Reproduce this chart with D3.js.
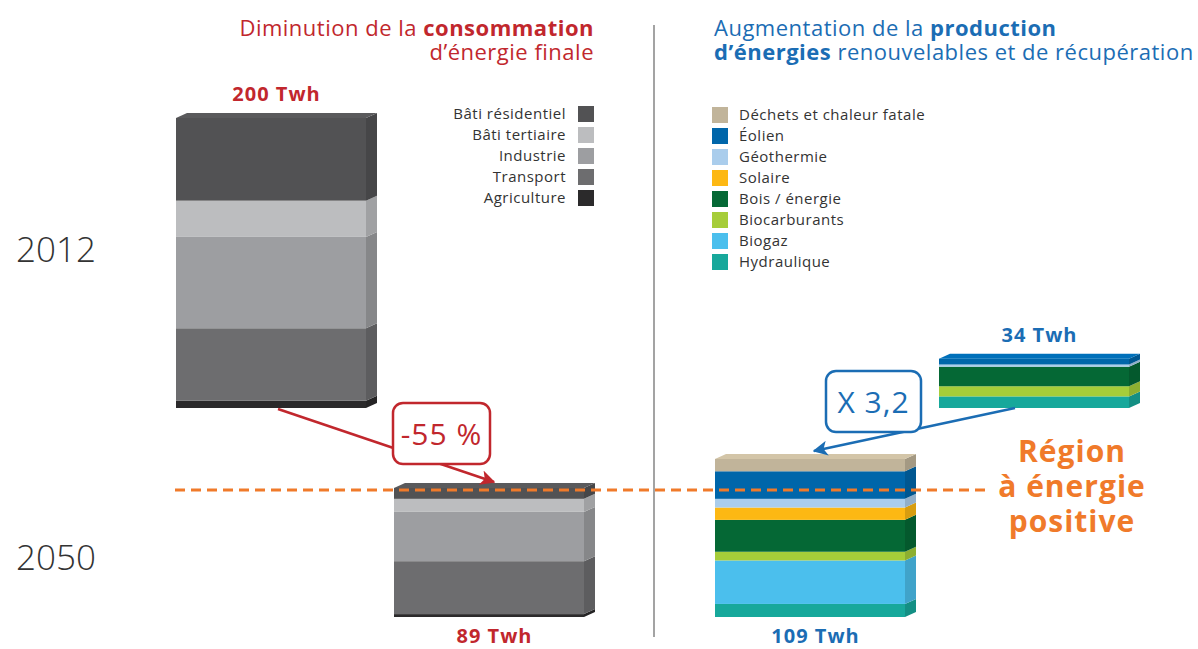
<!DOCTYPE html>
<html lang="fr">
<head>
<meta charset="utf-8">
<title>Consommation et production d'énergie</title>
<style>
  body { margin: 0; background: #fff; font-family: "Open Sans", Lato, sans-serif; }
  svg text { font-family: "Open Sans", Lato, sans-serif; }
  .year { font-size: 35px; fill: #333; font-weight: 300; }
  .legend text { font-size: 15px; fill: #333; letter-spacing: 0.5px; }
  .title { font-size: 22px; letter-spacing: 0.5px; }
  .total { font-size: 20px; font-weight: 700; letter-spacing: 1px; }
</style>
</head>
<body>
<div id="chart"></div>
<script src="https://d3js.org/d3.v7.min.js"></script>
<script>
// ---- data (Twh) ----
var years = ["2012", "2050"];

var consoCats = ["Bâti résidentiel", "Bâti tertiaire", "Industrie", "Transport", "Agriculture"];
var conso2012 = [57, 25, 63, 50, 5];
var conso2050 = [7.5, 9, 34, 36.5, 2];

var enrCats = ["Déchets et chaleur fatale", "Éolien", "Géothermie", "Solaire",
               "Bois / énergie", "Biocarburants", "Biogaz", "Hydraulique"];
var enr2012 = [0, 4, 1.5, 0, 13.5, 7, 0, 8];
var enr2050 = [8.5, 19, 6, 8.5, 22, 6, 30, 9];

var evolLabels = ["-55 %", "X 3,2"];

// ---- colours ----
var consoColor = d3.scaleOrdinal()
    .domain(consoCats)
    .range(["#525254", "#bcbdbf", "#9d9ea1", "#6d6d6f", "#2b2a2b"]);
var enrColor = d3.scaleOrdinal()
    .domain(enrCats)
    .range(["#c1b49a", "#0066aa", "#aacdec", "#fdb813", "#056835", "#a6cd39", "#4bbfed", "#17a89b"]);

var red = "#c1272d", blue = "#1b6db4", orange = "#f07a2a";

var width = 1198, height = 649;
var svg = d3.select("#chart").append("svg")
    .attr("width", width)
    .attr("height", height);

// height scale shared by all bars
var h = d3.scaleLinear().domain([0, 200]).range([0, 290]);
// bottom of each row
var rowY = d3.scaleOrdinal().domain(years).range([408, 617]);
var barW = 190, dx = 11, dy = -5;

// ---- titles ----
var t1 = svg.append("text").attr("class", "title").attr("x", 594).attr("y", 36)
    .attr("text-anchor", "end").attr("fill", red);
t1.append("tspan").text("Diminution de la ");
t1.append("tspan").attr("font-weight", 700).text("consommation");
svg.append("text").attr("class", "title").attr("x", 594).attr("y", 60)
    .attr("text-anchor", "end").attr("fill", red)
    .text("d’énergie finale");

var t2 = svg.append("text").attr("class", "title").attr("x", 714).attr("y", 36)
    .attr("fill", blue);
t2.append("tspan").text("Augmentation de la ");
t2.append("tspan").attr("font-weight", 700).text("production");
var t3 = svg.append("text").attr("class", "title").attr("x", 714).attr("y", 60)
    .attr("fill", blue);
t3.append("tspan").attr("font-weight", 700).text("d’énergies");
t3.append("tspan").text(" renouvelables et de récupération");

// divider
svg.append("line")
    .attr("x1", 654).attr("x2", 654).attr("y1", 25).attr("y2", 637)
    .attr("stroke", "#666").attr("stroke-width", 1.2);

// year labels
svg.selectAll("text.year").data(years).join("text")
    .attr("class", "year")
    .attr("x", 56)
    .attr("y", function(d) { return d === "2012" ? 262 : 570; })
    .attr("text-anchor", "middle")
    .text(function(d) { return d; });

// ---- legends ----
var legL = svg.append("g").attr("class", "legend").attr("transform", "translate(578,106)");
var rowL = legL.selectAll("g").data(consoCats).join("g")
    .attr("transform", function(d, i) { return "translate(0," + i * 21 + ")"; });
rowL.append("rect").attr("width", 16).attr("height", 16).attr("fill", consoColor);
rowL.append("text").attr("x", -12).attr("y", 13).attr("text-anchor", "end").text(function(d) { return d; });

var legR = svg.append("g").attr("class", "legend").attr("transform", "translate(712,107)");
var rowR = legR.selectAll("g").data(enrCats).join("g")
    .attr("transform", function(d, i) { return "translate(0," + i * 21 + ")"; });
rowR.append("rect").attr("width", 16).attr("height", 16).attr("fill", enrColor);
rowR.append("text").attr("x", 27).attr("y", 13).text(function(d) { return d; });

// ---- 3D stacked bars ----
function drawBar(cats, values, color, x0, year, labelColor, labelAbove) {
  var bottom = rowY(year);
  var segs = [];
  var acc = 0;
  // stack from the last category (bottom) up to the first (top)
  for (var i = cats.length - 1; i >= 0; i--) {
    if (values[i] > 0) {
      segs.push({ cat: cats[i], y1: bottom - h(acc), y0: bottom - h(acc + values[i]) });
    }
    acc += values[i];
  }
  var g = svg.append("g");
  var x1 = x0 + barW;
  g.selectAll("rect").data(segs).join("rect")
    .attr("x", x0).attr("y", function(d) { return d.y0; })
    .attr("width", barW).attr("height", function(d) { return d.y1 - d.y0; })
    .attr("fill", function(d) { return color(d.cat); });
  g.selectAll("path.side").data(segs).join("path")
    .attr("class", "side")
    .attr("d", function(d) {
      return "M" + x1 + "," + d.y0 + "L" + (x1 + dx) + "," + (d.y0 + dy) +
             "L" + (x1 + dx) + "," + (d.y1 + dy) + "L" + x1 + "," + d.y1 + "Z";
    })
    .attr("fill", function(d) { return d3.color(color(d.cat)).darker(0.45); });
  var top = segs[segs.length - 1];
  g.append("path")
    .attr("d", "M" + x0 + "," + top.y0 + "L" + (x0 + dx) + "," + (top.y0 + dy) +
               "L" + (x1 + dx) + "," + (top.y0 + dy) + "L" + x1 + "," + top.y0 + "Z")
    .attr("fill", d3.color(color(top.cat)).brighter(0.25));

  var total = d3.sum(values);
  g.append("text").attr("class", "total")
    .attr("x", x0 + (barW + dx) / 2)
    .attr("y", labelAbove ? top.y0 - 17 : bottom + 26)
    .attr("text-anchor", "middle")
    .attr("fill", labelColor)
    .text(d3.format(".0f")(total) + " Twh");
  return { x0: x0, top: top.y0, bottom: bottom };
}

drawBar(consoCats, conso2012, consoColor, 176, "2012", red, true);
drawBar(consoCats, conso2050, consoColor, 394, "2050", red, false);
drawBar(enrCats, enr2050, enrColor, 715, "2050", blue, false);
drawBar(enrCats, enr2012, enrColor, 939, "2012", blue, true);

// orange reference line
svg.append("line")
    .attr("x1", 175).attr("x2", 988).attr("y1", 490).attr("y2", 490)
    .attr("stroke", orange).attr("stroke-width", 3)
    .attr("stroke-dasharray", "10,6");

var reg = svg.append("text").attr("fill", orange)
    .attr("text-anchor", "middle").style("font-size", "30px").style("letter-spacing", "1px")
    .attr("font-weight", 700);
reg.selectAll("tspan").data(["Région", "à énergie", "positive"]).join("tspan")
    .attr("x", 1072).attr("y", function(d, i) { return 462 + i * 35; })
    .text(function(d) { return d; });

// ---- callouts ----
var defs = svg.append("defs");
[["arrRed", red], ["arrBlue", blue]].forEach(function(m) {
  defs.append("marker").attr("id", m[0])
    .attr("viewBox", "0 0 10 10").attr("refX", 9).attr("refY", 5)
    .attr("markerWidth", 6).attr("markerHeight", 6).attr("orient", "auto")
    .attr("markerUnits", "strokeWidth")
    .append("path").attr("d", "M0,0L10,5L0,10L2.5,5Z").attr("fill", m[1]);
});

function callout(from, to, box, label, col, marker) {
  svg.append("line")
    .attr("x1", from[0]).attr("y1", from[1]).attr("x2", to[0]).attr("y2", to[1])
    .attr("stroke", col).attr("stroke-width", 2.5)
    .attr("marker-end", "url(#" + marker + ")");
  svg.append("rect")
    .attr("x", box[0]).attr("y", box[1]).attr("width", box[2]).attr("height", box[3])
    .attr("rx", 10).attr("fill", "#fff").attr("stroke", col).attr("stroke-width", 2.5);
  svg.append("text")
    .attr("x", box[0] + box[2] / 2).attr("y", box[1] + box[3] / 2 + 11)
    .attr("text-anchor", "middle").attr("fill", col)
    .style("font-size", "30px").style("letter-spacing", "1px")
    .text(label);
}

callout([278, 409], [494, 482], [393, 403, 97, 61], evolLabels[0], red, "arrRed");
callout([1015, 408], [814, 451], [826, 371, 95, 61], evolLabels[1], blue, "arrBlue");
</script>
</body>
</html>
